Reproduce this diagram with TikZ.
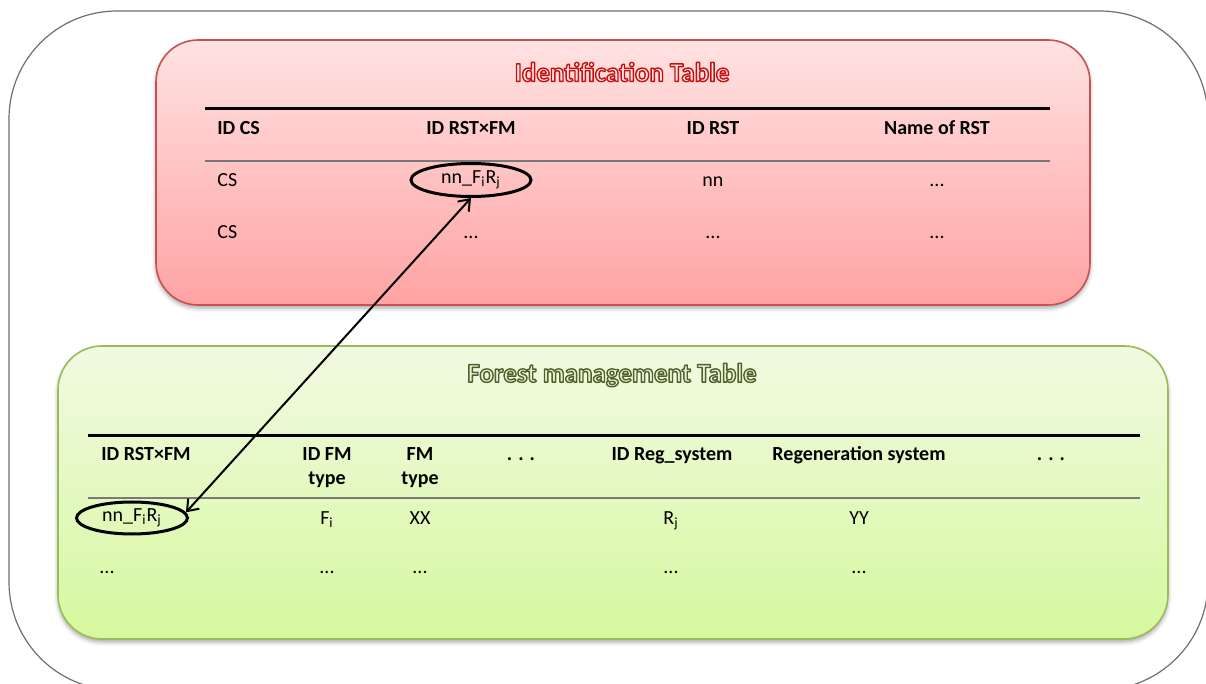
\documentclass[tikz,border=0pt]{standalone}
\usepackage{fontspec}
\setmainfont{Carlito}
\usetikzlibrary{shapes.geometric,shadows.blur,arrows.meta}

\definecolor{framegray}{RGB}{110,110,110}
\definecolor{idborder}{RGB}{200,80,80}
\definecolor{idtop}{RGB}{255,226,226}
\definecolor{idbot}{RGB}{255,163,163}
\definecolor{fmborder}{RGB}{155,187,89}
\definecolor{fmtop}{RGB}{241,250,226}
\definecolor{fmbot}{RGB}{214,248,158}
\definecolor{rulegray}{RGB}{120,120,120}

\tikzset{
  frame/.style={draw=framegray, line width=0.6pt, rounded corners=54pt},
  panel/.style={rectangle, line width=0.8pt, inner sep=0pt,
    blur shadow={shadow xshift=0pt, shadow yshift=-1.5pt,
      shadow blur radius=2pt, shadow opacity=35}},
  idpanel/.style={panel, draw=idborder, rounded corners=21pt,
    top color=idtop, bottom color=idbot},
  fmpanel/.style={panel, draw=fmborder, rounded corners=22pt,
    top color=fmtop, bottom color=fmbot},
  hd/.style={font=\fontsize{10}{12}\selectfont\bfseries, inner sep=0pt, anchor=base},
  cell/.style={font=\fontsize{10}{12}\selectfont, inner sep=0pt, anchor=base},
  ring/.style={ellipse, draw=black, line width=1.5pt, inner sep=0pt,
    font=\fontsize{10}{12}\selectfont},
  thickrule/.style={line width=1.5pt, black},
  thinrule/.style={line width=0.6pt, rulegray},
  titletext/.style={font=\fontsize{13.5}{16}\selectfont\bfseries, inner sep=0pt},
  link/.style={<->, >={Straight Barb[length=5pt,width=7.5pt]}, line width=1pt},
}

% outlined lettering: stroke colour #1, fill colour #2 (PDF rgb triples)
\newcommand\outlined[3]{%
  \special{pdf:literal direct #1 RG #2 rg 0.7 w 1 j 2 Tr}#3%
  \special{pdf:literal direct 0 Tr 0 0 0 RG 0 0 0 rg}}

\begin{document}
\begin{tikzpicture}[x=0.5pt,y=-0.5pt]
\useasboundingbox (0,0) rectangle (1206,684);

% outer rounded frame
\draw[frame] (9,11) rectangle (1208,690);

% panels
\node[idpanel, minimum width=467pt, minimum height=132.5pt] (idbox) at (623,172.5) {};
\node[fmpanel, minimum width=555pt, minimum height=146.5pt] (fmbox) at (613,492.5) {};

% ---------- identification table ----------
\node[titletext] (idtitle) at (622,72)
  {\outlined{0.78 0.06 0.06}{1 0.9 0.9}{Identification Table}};

\draw[thickrule] (205,109) -- (1050,109);
\draw[thinrule] (205,161) -- (1050,161);

\node[hd, anchor=base west] (h-idcs) at (217,134.5) {ID CS};
\node[hd] (h-idrstfm) at (471,134.5) {ID RST×FM};
\node[hd] (h-idrst) at (713,134.5) {ID RST};
\node[hd] (h-name) at (937,134.5) {Name of RST};

\node[cell, anchor=base west] (r1-cs) at (217,187) {CS};
\node[ring, minimum width=60pt, minimum height=16.5pt] (e1) at (471,180)
  {nn\_F\textsubscript{i}R\textsubscript{j}};
\node[cell] (r1-nn) at (713,187) {nn};
\node[cell] (r1-name) at (937,187) {...};

\node[cell, anchor=base west] (r2-cs) at (217,238.5) {CS};
\node[cell] (r2-idrstfm) at (471,238.5) {...};
\node[cell] (r2-idrst) at (713,238.5) {...};
\node[cell] (r2-name) at (937,238.5) {...};

% ---------- forest management table ----------
\node[titletext] (fmtitle) at (612,375)
  {\outlined{0.31 0.38 0.16}{0.91 0.94 0.84}{Forest management Table}};

\draw[thickrule] (88,436) -- (1140,436);
\draw[thinrule] (88,498) -- (1140,498);

\node[hd, anchor=base west] (f-idrstfm) at (101,460.5) {ID RST×FM};
\node[hd] (f-idfm) at (327,460.5) {ID FM};
\node[hd] (f-idfm2) at (327,485) {type};
\node[hd] (f-fm) at (420,460.5) {FM};
\node[hd] (f-fm2) at (420,485) {type};
\node[hd] (f-dots1) at (521,460.5) {. . .};
\node[hd] (f-idreg) at (672,460.5) {ID Reg\_system};
\node[hd] (f-reg) at (859,460.5) {Regeneration system};
\node[hd] (f-dots2) at (1051,460.5) {. . .};

\node[ring, minimum width=55.5pt, minimum height=16pt] (e2) at (132,518)
  {nn\_F\textsubscript{i}R\textsubscript{j}};
\node[cell] (g1-fi) at (327,524) {F\textsubscript{i}};
\node[cell] (g1-xx) at (420,524) {XX};
\node[cell] (g1-rj) at (671,524) {R\textsubscript{j}};
\node[cell] (g1-yy) at (859,524) {YY};

\node[cell] (g2-a) at (107,574) {...};
\node[cell] (g2-b) at (327,574) {...};
\node[cell] (g2-c) at (420,574) {...};
\node[cell] (g2-d) at (671,574) {...};
\node[cell] (g2-e) at (859,574) {...};

% link between the two key cells
\draw[link] (e1.south) -- (e2.6);

\end{tikzpicture}
\end{document}
